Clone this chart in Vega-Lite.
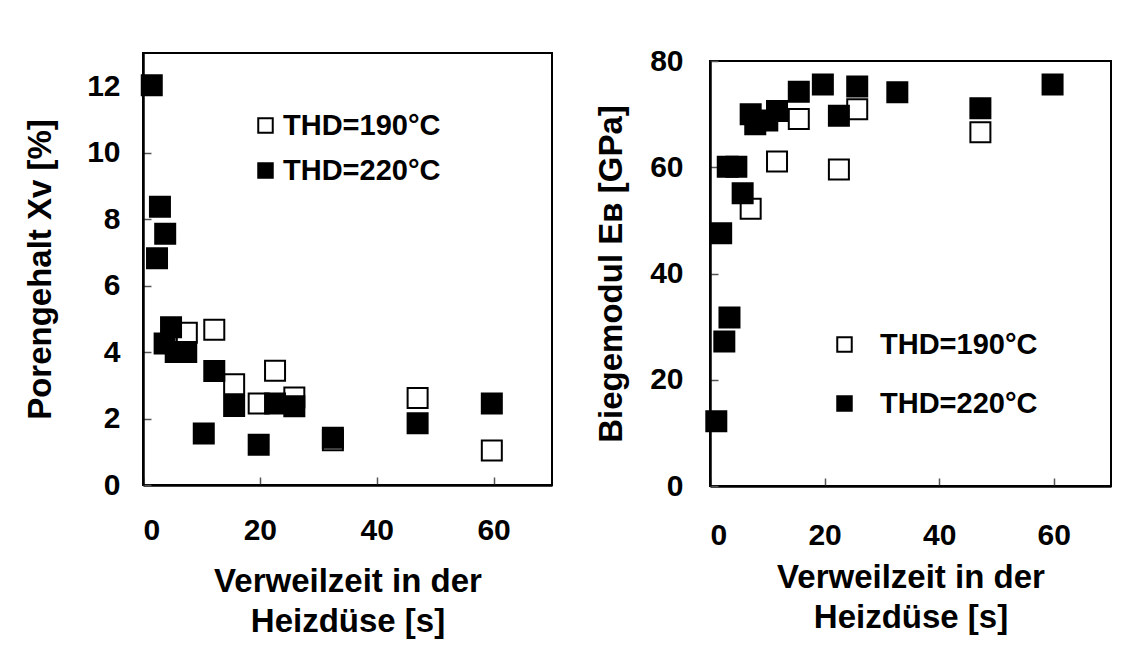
{
  "$schema": "https://vega.github.io/schema/vega-lite/v6.json",
  "padding": {"left": 23, "top": 45, "right": 0, "bottom": 0},
  "background": "white",
  "spacing": 41,
  "config": {
    "view": {"stroke": "black", "strokeWidth": 2},
    "font": "Liberation Sans",
    "axis": {
      "grid": false,
      "domainColor": "black",
      "domainWidth": 2.5,
      "tickColor": "#555",
      "tickWidth": 1.5,
      "tickSize": -8,
      "labelFont": "Liberation Sans",
      "labelFontWeight": "bold",
      "labelFontSize": 30,
      "labelColor": "black",
      "titleFont": "Liberation Sans",
      "titleFontWeight": "bold",
      "titleFontSize": 33,
      "titleColor": "black"
    },
    "legend": {
      "orient": "none",
      "title": null,
      "symbolType": "square",
      "symbolSize": 210,
      "symbolStrokeWidth": 2,
      "symbolStrokeColor": "black",
      "labelFont": "Liberation Sans",
      "labelFontWeight": "bold",
      "labelFontSize": 29,
      "labelColor": "black"
    }
  },
  "resolve": {
    "scale": {"x": "independent", "y": "independent", "fill": "independent"},
    "legend": {"fill": "independent"}
  },
  "hconcat": [
    {
      "width": 409,
      "height": 432,
      "data": {"values": [
        {"t": 7.5, "v": 4.58, "s": "190"},
        {"t": 12.2, "v": 4.67, "s": "190"},
        {"t": 15.6, "v": 3.03, "s": "190"},
        {"t": 19.8, "v": 2.45, "s": "190"},
        {"t": 22.6, "v": 3.44, "s": "190"},
        {"t": 25.9, "v": 2.63, "s": "190"},
        {"t": 32.5, "v": 1.35, "s": "190"},
        {"t": 47.0, "v": 2.62, "s": "190"},
        {"t": 59.7, "v": 1.04, "s": "190"},
        {"t": 1.5, "v": 12.03, "s": "220"},
        {"t": 2.4, "v": 6.82, "s": "220"},
        {"t": 2.9, "v": 8.37, "s": "220"},
        {"t": 3.8, "v": 7.56, "s": "220"},
        {"t": 3.7, "v": 4.26, "s": "220"},
        {"t": 4.8, "v": 4.75, "s": "220"},
        {"t": 5.6, "v": 4.0, "s": "220"},
        {"t": 7.4, "v": 4.0, "s": "220"},
        {"t": 10.4, "v": 1.55, "s": "220"},
        {"t": 12.2, "v": 3.43, "s": "220"},
        {"t": 15.6, "v": 2.38, "s": "220"},
        {"t": 19.8, "v": 1.21, "s": "220"},
        {"t": 22.6, "v": 2.45, "s": "220"},
        {"t": 25.9, "v": 2.37, "s": "220"},
        {"t": 32.5, "v": 1.42, "s": "220"},
        {"t": 47.0, "v": 1.86, "s": "220"},
        {"t": 59.7, "v": 2.45, "s": "220"}
      ]},
      "mark": {"type": "point", "shape": "square", "size": 400, "stroke": "black", "strokeWidth": 2, "opacity": 1, "filled": true},
      "encoding": {
        "x": {"field": "t", "type": "quantitative", "scale": {"domain": [0, 70], "nice": false},
              "axis": {"values": [0, 20, 40, 60], "title": ["Verweilzeit in der", "Heizdüse [s]"], "labelPadding": 38, "titlePadding": 20, "titleLineHeight": 40}},
        "y": {"field": "v", "type": "quantitative", "scale": {"domain": [0, 13], "nice": false},
              "axis": {"values": [0, 2, 4, 6, 8, 10, 12], "title": "Porengehalt Xv [%]", "labelPadding": 31, "titlePadding": 29}},
        "fill": {"field": "s", "type": "nominal", "scale": {"domain": ["190", "220"], "range": ["white", "black"]},
                 "legend": {"legendX": 108, "legendY": 58, "rowPadding": 15, "labelOffset": 3,
                            "labelExpr": "datum.value == '190' ? 'THD=190°C' : 'THD=220°C'"}}
      }
    },
    {
      "spacing": 0,
      "bounds": "flush",
      "vconcat": [
        {
          "width": 1,
          "height": 8,
          "view": {"stroke": null},
          "data": {"values": [{"a": 1}]},
          "mark": {"type": "point", "opacity": 0},
          "encoding": {}
        },
        {
          "width": 401,
          "height": 425,
          "data": {"values": [
            {"t": 7.1, "v": 52.2, "s": "190"},
            {"t": 11.7, "v": 61.1, "s": "190"},
            {"t": 15.5, "v": 69.1, "s": "190"},
            {"t": 22.5, "v": 59.6, "s": "190"},
            {"t": 25.7, "v": 70.9, "s": "190"},
            {"t": 47.2, "v": 66.6, "s": "190"},
            {"t": 1.1, "v": 12.2, "s": "220"},
            {"t": 1.95, "v": 47.6, "s": "220"},
            {"t": 2.5, "v": 27.2, "s": "220"},
            {"t": 3.4, "v": 31.7, "s": "220"},
            {"t": 3.1, "v": 60.1, "s": "220"},
            {"t": 4.6, "v": 60.1, "s": "220"},
            {"t": 5.7, "v": 55.1, "s": "220"},
            {"t": 7.1, "v": 70.0, "s": "220"},
            {"t": 7.9, "v": 68.1, "s": "220"},
            {"t": 10.0, "v": 68.8, "s": "220"},
            {"t": 11.7, "v": 70.6, "s": "220"},
            {"t": 15.5, "v": 74.2, "s": "220"},
            {"t": 19.7, "v": 75.6, "s": "220"},
            {"t": 22.5, "v": 69.7, "s": "220"},
            {"t": 25.7, "v": 75.2, "s": "220"},
            {"t": 32.7, "v": 74.1, "s": "220"},
            {"t": 47.2, "v": 71.1, "s": "220"},
            {"t": 59.8, "v": 75.6, "s": "220"}
          ]},
          "mark": {"type": "point", "shape": "square", "size": 400, "stroke": "black", "strokeWidth": 2, "opacity": 1, "filled": true},
          "encoding": {
            "x": {"field": "t", "type": "quantitative", "scale": {"domain": [0, 70], "nice": false},
                  "axis": {"values": [0, 20, 40, 60], "title": ["Verweilzeit in der", "Heizdüse [s]"], "labelPadding": 42, "titlePadding": 11, "titleLineHeight": 40}},
            "y": {"field": "v", "type": "quantitative", "scale": {"domain": [0, 80], "nice": false},
                  "axis": {"values": [0, 20, 40, 60, 80], "title": "Biegemodul Eʙ [GPa]", "labelPadding": 35, "titlePadding": 21}},
            "fill": {"field": "s", "type": "nominal", "scale": {"domain": ["190", "220"], "range": ["white", "black"]},
                     "legend": {"legendX": 120, "legendY": 277, "rowPadding": 29, "labelOffset": 21,
                                "labelExpr": "datum.value == '190' ? 'THD=190°C' : 'THD=220°C'"}}
          }
        }
      ]
    }
  ]
}
